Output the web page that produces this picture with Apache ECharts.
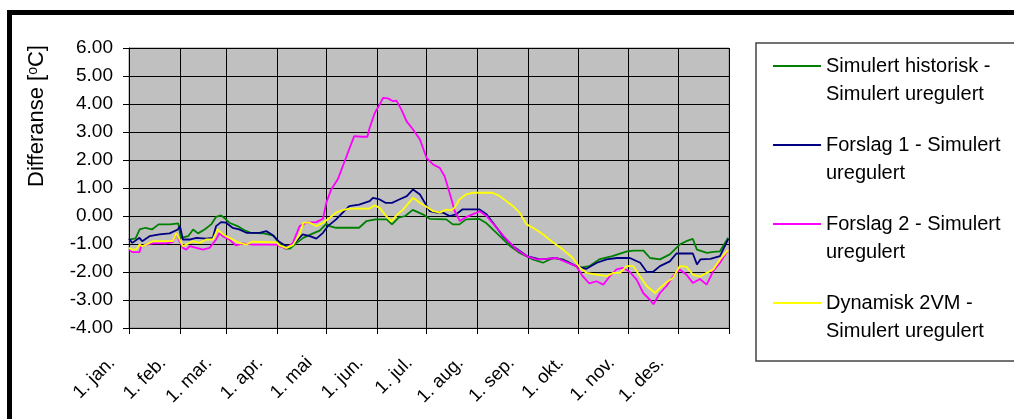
<!DOCTYPE html>
<html><head><meta charset="utf-8">
<script src="https://cdn.jsdelivr.net/npm/echarts@6/dist/echarts.min.js"></script>
<style>html,body{margin:0;padding:0;background:#fff;}#c{width:1014px;height:419px;}</style>
</head><body><div id="c"></div>
<script>
// Day-of-year positions of month starts and their labels
const monthStarts = [0, 31, 59, 90, 120, 151, 181, 212, 243, 273, 304, 334];
const monthLabels = ['1. jan.', '1. feb.', '1. mar.', '1. apr.', '1. mai', '1. jun.', '1. jul.', '1. aug.', '1. sep.', '1. okt.', '1. nov.', '1. des.'];
const yearEnd = 365;
const yTicks = [-4, -3, -2, -1, 0, 1, 2, 3, 4, 5, 6];

const seriesNames = [
  'Simulert historisk -\nSimulert uregulert',
  'Forslag 1 - Simulert\nuregulert',
  'Forslag 2 - Simulert\nuregulert',
  'Dynamisk 2VM -\nSimulert uregulert'
];

// [day of year, difference °C]
const historisk = [[0,-0.84],[4,-0.8],[6.5,-0.48],[10,-0.42],[14,-0.48],[18,-0.3],[25,-0.3],[30,-0.26],[31.5,-0.78],[36,-0.72],[39,-0.48],[42,-0.62],[46,-0.48],[50,-0.3],[53,-0.03],[56,0.02],[58,-0.07],[61,-0.24],[66,-0.36],[70,-0.5],[74,-0.6],[82,-0.62],[88,-0.7],[91,-0.96],[95,-1.16],[98,-1.16],[102,-0.96],[106,-0.78],[112,-0.62],[116,-0.52],[120,-0.28],[122,-0.36],[126,-0.42],[140,-0.42],[144.5,-0.18],[150,-0.12],[156.7,-0.12],[160,-0.3],[164,-0.06],[168,0.0],[172.6,0.22],[178.7,0.06],[183,-0.1],[193,-0.12],[197,-0.3],[201,-0.3],[205,-0.12],[213,-0.1],[217.5,-0.26],[225.6,-0.72],[232,-1.08],[237.7,-1.32],[245.7,-1.55],[251.8,-1.67],[258,-1.5],[264,-1.55],[270,-1.73],[274,-1.85],[280,-1.79],[286,-1.55],[294,-1.43],[303,-1.26],[307,-1.24],[313,-1.24],[317,-1.5],[323,-1.55],[329,-1.37],[335,-1.02],[339,-0.9],[343,-0.82],[345.5,-1.2],[351.6,-1.32],[355.4,-1.28],[359.5,-1.26],[364.5,-0.78]];

const forslag1 = [[0,-0.81],[2,-0.96],[6.4,-0.78],[8,-0.9],[12.5,-0.72],[18.6,-0.66],[24.7,-0.62],[29.7,-0.48],[31,-0.36],[32.8,-0.84],[36.8,-0.84],[41,-0.78],[47,-0.81],[51,-0.78],[53,-0.36],[56,-0.22],[59,-0.24],[63,-0.42],[67,-0.48],[71.4,-0.6],[75.4,-0.6],[79.5,-0.6],[83.5,-0.54],[87.5,-0.69],[91.6,-0.93],[95.7,-1.08],[97.7,-1.08],[101.8,-0.9],[105.7,-0.66],[110,-0.72],[114,-0.81],[118,-0.6],[121,-0.36],[126,-0.12],[130,0.12],[134,0.35],[140,0.41],[146.4,0.53],[148.4,0.65],[152.5,0.59],[156,0.47],[160,0.47],[164.4,0.59],[169,0.71],[172.8,0.95],[177,0.77],[180,0.47],[183,0.17],[187,0.12],[191,0.12],[195,0.0],[199,0.06],[203,0.24],[209,0.24],[213,0.24],[217.5,0.06],[221.4,-0.24],[227.5,-0.72],[233.6,-1.08],[242,-1.43],[250,-1.55],[254,-1.53],[260,-1.5],[266,-1.62],[272,-1.79],[278,-1.89],[284.6,-1.67],[290.6,-1.55],[296.8,-1.5],[304.7,-1.5],[311,-1.67],[315,-2.0],[318.7,-2.0],[323,-1.79],[329,-1.62],[333,-1.34],[343,-1.34],[345.5,-1.73],[347.6,-1.55],[353.7,-1.53],[359.5,-1.43],[364.6,-0.82]];

const forslag2 = [[0,-1.2],[2,-1.29],[6.4,-1.29],[7.4,-1.08],[10.5,-1.02],[14.5,-0.98],[22.6,-0.98],[26.7,-0.93],[28.7,-0.6],[30.7,-0.9],[32.8,-1.14],[34.8,-1.2],[37,-1.08],[41,-1.14],[45,-1.2],[49,-1.14],[53,-0.84],[55,-0.6],[57,-0.72],[61,-0.84],[65,-1.05],[69.3,-0.98],[75.4,-1.02],[89.6,-1.02],[91.6,-1.08],[95.7,-1.16],[99.7,-0.96],[103.8,-0.36],[108,-0.24],[114,-0.22],[118,-0.1],[120,0.47],[123,0.95],[127,1.31],[132,2.08],[135,2.55],[137,2.85],[141.5,2.83],[145,2.83],[146.4,3.15],[149.5,3.68],[152.5,3.98],[154.5,4.22],[157.6,4.2],[160.6,4.1],[162.7,4.12],[165.7,3.8],[168.8,3.39],[172.8,3.09],[176.9,2.74],[181,2.08],[185,1.84],[189,1.72],[192,1.42],[195,0.83],[198.2,0.17],[201.3,-0.18],[204.3,-0.06],[209,0.06],[213.4,0.17],[217.5,0.0],[223.6,-0.42],[229.6,-0.83],[235.7,-1.2],[241.8,-1.43],[247.9,-1.55],[254,-1.53],[260,-1.5],[266,-1.65],[272,-1.79],[276,-2.15],[280,-2.41],[284.4,-2.33],[288.5,-2.45],[292.5,-2.15],[296.6,-1.91],[300.4,-1.85],[304.7,-2.0],[308.8,-2.27],[312.8,-2.75],[317,-3.0],[319,-3.15],[323,-2.75],[327,-2.5],[331,-2.15],[335,-1.91],[339,-2.09],[343,-2.39],[347.3,-2.25],[351.4,-2.45],[355.4,-1.97],[359.5,-1.67],[364.6,-1.2]];

const dynamisk2vm = [[0,-1.14],[2,-1.2],[4.4,-1.2],[6.4,-1.02],[8,-1.08],[10.5,-1.02],[14.5,-0.9],[26.7,-0.9],[28.7,-0.6],[30.7,-0.82],[32.8,-1.08],[34.8,-1.02],[38.8,-0.9],[43,-0.96],[47,-0.84],[51,-0.84],[54,-0.48],[56,-0.6],[59,-0.72],[63,-0.84],[67,-0.96],[71.4,-1.02],[75,-0.92],[90,-0.94],[91.6,-1.05],[95.7,-1.14],[99.7,-1.04],[103.8,-0.66],[106,-0.24],[110,-0.24],[114,-0.36],[118,-0.24],[122,-0.07],[126,0.12],[130,0.21],[134,0.26],[146,0.26],[149.5,0.38],[152.5,0.29],[155.6,0.05],[159.6,-0.19],[162.7,0.02],[166.7,0.23],[172.8,0.65],[176.9,0.47],[181,0.33],[185,0.17],[189,0.12],[193,0.23],[196,0.2],[198,0.29],[201,0.59],[205,0.77],[209,0.83],[221,0.83],[225.6,0.71],[229.6,0.53],[233.7,0.35],[237.7,0.11],[241.8,-0.3],[245.8,-0.42],[252,-0.66],[258,-0.95],[264,-1.2],[270,-1.5],[274.3,-1.85],[278.3,-2.03],[284.4,-2.09],[290.5,-2.15],[294.6,-2.03],[298.7,-2.03],[302.7,-1.79],[306.8,-1.79],[310.8,-2.15],[314.9,-2.5],[320,-2.75],[323,-2.57],[327,-2.37],[331,-2.21],[335,-1.79],[339,-1.81],[343,-2.09],[347.3,-2.17],[351.4,-2.03],[355.4,-1.91],[359.5,-1.55],[364.6,-1.2]];

const seriesData = [historisk, forslag1, forslag2, dynamisk2vm];
const seriesColors = ['#008000', '#000080', '#FF00FF', '#FFFF00'];

const FONT = '"Liberation Sans", Arial, sans-serif';
const chart = echarts.init(document.getElementById('c'), null, { renderer: 'canvas' });

const tickValues = monthStarts.concat([yearEnd]);

chart.setOption({
  animation: false,
  backgroundColor: '#fff',
  textStyle: { fontFamily: FONT },
  grid: {
    left: 129, top: 48, width: 600, height: 280,
    show: true, backgroundColor: '#C0C0C0', borderColor: '#8a8a8a', borderWidth: 1
  },
  xAxis: {
    type: 'value', min: 0, max: yearEnd,
    axisLine: { show: true, onZero: false, lineStyle: { color: '#000', width: 1 } },
    axisTick: { show: true, length: 6, customValues: tickValues, lineStyle: { color: '#000' } },
    splitLine: { show: true, lineStyle: { color: '#000', width: 1 } },
    axisLabel: {
      customValues: monthStarts,
      formatter: v => monthLabels[monthStarts.indexOf(Math.round(v))] || '',
      rotate: 45, margin: 15, padding: [0, 24, 0, 0],
      fontSize: 18.5, color: '#000', fontFamily: FONT
    }
  },
  yAxis: {
    type: 'value', min: yTicks[0], max: yTicks[yTicks.length - 1], interval: 1,
    axisLine: { show: true, onZero: false, lineStyle: { color: '#000', width: 1 } },
    axisTick: { show: true, length: 6, lineStyle: { color: '#000' } },
    splitLine: { show: true, lineStyle: { color: '#000', width: 1 } },
    axisLabel: { formatter: v => v.toFixed(2), margin: 16, fontSize: 19, color: '#000', fontFamily: FONT }
  },
  legend: {
    left: 773, top: 24, orient: 'vertical', padding: 0,
    icon: 'rect', itemWidth: 48, itemHeight: 2, itemGap: -5,
    data: seriesNames,
    formatter: name => '\n' + name,
    textStyle: { fontSize: 20, lineHeight: 28, color: '#000', fontFamily: FONT }
  },
  graphic: [
    { type: 'rect', z: -1, shape: { x: 756, y: 43, width: 400, height: 318 },
      style: { fill: '#fff', stroke: '#444', lineWidth: 1.5 } },
    { type: 'rect', z: 100, shape: { x: 9.5, y: 12.5, width: 1200, height: 600 },
      style: { fill: 'none', stroke: '#000', lineWidth: 5 } },
    { type: 'text', x: 37, y: 116, rotation: Math.PI / 2,
      style: {
        text: 'Differanse [{sup|o}C]', fontSize: 22, fill: '#000', fontFamily: FONT,
        align: 'center', verticalAlign: 'middle',
        rich: { sup: { fontSize: 14, verticalAlign: 'top', fill: '#000', fontFamily: FONT, padding: [0, 0, 8, 0] } }
      } }
  ],
  series: seriesNames.map((n, i) => ({
    name: n, type: 'line', data: seriesData[i], showSymbol: false, symbol: 'none',
    lineStyle: { color: seriesColors[i], width: 1.8 }, itemStyle: { color: seriesColors[i] },
    z: 2 + i
  }))
});
</script></body></html>
